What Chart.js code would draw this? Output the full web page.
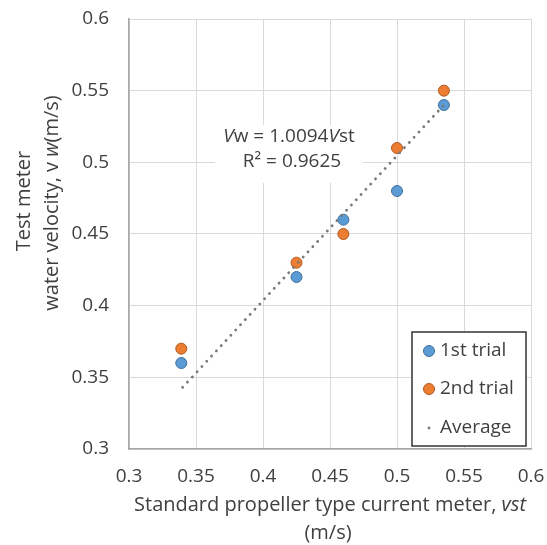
<!DOCTYPE html>
<html>
<head>
<meta charset="utf-8">
<script src="https://cdn.jsdelivr.net/npm/chart.js@4.4.1/dist/chart.umd.min.js"></script>
<style>
  html, body { margin: 0; padding: 0; background: #fff; }
</style>
</head>
<body>
<canvas id="chartVel" width="547" height="545"></canvas>
<script>
// values
const velStd = [0.339, 0.425, 0.46, 0.5, 0.535];
const trial1 = [0.36, 0.42, 0.46, 0.48, 0.54];
const trial2 = [0.37, 0.43, 0.45, 0.51, 0.55];
const avgX = [0.34, 0.535];
const avgY = [0.343, 0.54];
const tickVals = [0.3, 0.35, 0.4, 0.45, 0.5, 0.55, 0.6];
const tickLabels = ['0.3', '0.35', '0.4', '0.45', '0.5', '0.55', '0.6'];
const seriesNames = ['1st trial', '2nd trial', 'Average'];

const FONT = '"Open Sans", sans-serif';
const TXT = '#404040';

// draws a line of text made of normal / italic pieces, centred on (cx, cy)
function drawRuns(ctx, runs, cx, cy, size) {
    let total = 0;
    runs.forEach(r => {
        ctx.font = (r[1] ? 'italic ' : '') + size + 'px ' + FONT;
        total += ctx.measureText(r[0]).width;
    });
    let x = cx - total / 2;
    ctx.textAlign = 'left';
    ctx.textBaseline = 'middle';
    runs.forEach(r => {
        ctx.font = (r[1] ? 'italic ' : '') + size + 'px ' + FONT;
        ctx.fillText(r[0], x, cy);
        x += ctx.measureText(r[0]).width;
    });
}

const extras = {
    id: 'extras',
    beforeDatasetsDraw(chart) {
        const ctx = chart.ctx;
        ctx.save();
        // trendline label
        ctx.fillStyle = '#fff';
        ctx.fillRect(215, 125, 148, 58);
        ctx.fillStyle = TXT;
        drawRuns(ctx, [['V', true], ['w = 1.0094', false], ['V', true], ['st', false]], 289, 137, 19);
        drawRuns(ctx, [['R\u00B2 = 0.9625', false]], 292, 162, 19);
        ctx.restore();
    },
    afterDraw(chart) {
        const ctx = chart.ctx;
        const ds = chart.data.datasets;
        ctx.save();
        // axis titles
        ctx.fillStyle = TXT;
        drawRuns(ctx, [['Standard propeller type current meter, ', false], ['vst', true]], 330, 505, 20);
        drawRuns(ctx, [['(m/s)', false]], 328, 533, 20);
        ctx.save();
        ctx.translate(24, 201);
        ctx.rotate(-Math.PI / 2);
        drawRuns(ctx, [['Test meter', false]], 0, 0, 20);
        ctx.restore();
        ctx.save();
        ctx.translate(52, 203);
        ctx.rotate(-Math.PI / 2);
        drawRuns(ctx, [['water velocity, v ', false], ['w', true], ['(m/s)', false]], 0, 0, 20);
        ctx.restore();

        // legend box
        ctx.fillStyle = '#fff';
        ctx.fillRect(412, 332, 114, 114);
        ctx.strokeStyle = '#333';
        ctx.lineWidth = 1.5;
        ctx.strokeRect(412, 332, 114, 114);
        const rows = [351, 389, 428];
        ds.forEach((d, i) => {
            const y = rows[i];
            ctx.beginPath();
            if (i < 2) {
                ctx.arc(429, y, 5.5, 0, Math.PI * 2);
                ctx.fillStyle = d.backgroundColor;
                ctx.fill();
                ctx.lineWidth = 1;
                ctx.strokeStyle = d.borderColor;
                ctx.stroke();
            } else {
                ctx.arc(429, y, 1.4, 0, Math.PI * 2);
                ctx.fillStyle = d.borderColor;
                ctx.fill();
            }
            ctx.fillStyle = TXT;
            ctx.font = '19px ' + FONT;
            ctx.textAlign = 'left';
            ctx.textBaseline = 'middle';
            ctx.fillText(d.label, 440, y);
        });
        ctx.restore();
    }
};

const ctx = document.getElementById('chartVel');

new Chart(ctx, {
    type: 'scatter',
    data: {
        datasets: [{
            label: seriesNames[0],
            data: velStd.map((x, i) => ({ x: x, y: trial1[i] })),
            backgroundColor: '#5B9BD5',
            borderColor: '#41719C',
            borderWidth: 1,
            pointRadius: 5.5,
            order: 3
        }, {
            label: seriesNames[1],
            data: velStd.map((x, i) => ({ x: x, y: trial2[i] })),
            backgroundColor: '#ED7D31',
            borderColor: '#AE5A21',
            borderWidth: 1,
            pointRadius: 5.5,
            order: 2
        }, {
            label: seriesNames[2],
            type: 'line',
            data: avgX.map((x, i) => ({ x: x, y: avgY[i] })),
            borderColor: '#7a7a7a',
            backgroundColor: '#7a7a7a',
            borderWidth: 2.8,
            borderDash: [0.1, 7],
            borderCapStyle: 'round',
            pointRadius: 0,
            fill: false,
            order: 1
        }]
    },
    options: {
        responsive: false,
        animation: false,
        layout: { padding: { top: 19, right: 16, left: 0, bottom: 0 } },
        plugins: {
            legend: { display: false },
            tooltip: { enabled: false }
        },
        scales: {
            x: {
                type: 'linear',
                min: 0.3,
                max: 0.6,
                afterBuildTicks: s => { s.ticks = tickVals.map(v => ({ value: v })); },
                afterFit: s => {
                    s.height = 96;
                    s.paddingLeft = 0;
                    s.paddingRight = 0;
                },
                ticks: {
                    callback: (v, i) => tickLabels[i],
                    color: TXT,
                    font: { family: FONT, size: 19 },
                    padding: 16,
                    maxRotation: 0
                },
                grid: { color: '#d9d9d9', drawTicks: false },
                border: { color: '#a6a6a6', width: 1.5 }
            },
            y: {
                min: 0.3,
                max: 0.6,
                afterBuildTicks: s => { s.ticks = tickVals.map(v => ({ value: v })); },
                afterFit: s => {
                    s.width = 129;
                    s.paddingTop = 0;
                    s.paddingBottom = 0;
                },
                ticks: {
                    callback: (v, i) => tickLabels[i],
                    color: TXT,
                    font: { family: FONT, size: 19 },
                    padding: 20
                },
                grid: { color: '#d9d9d9', drawTicks: false },
                border: { color: '#a6a6a6', width: 1.5 }
            }
        }
    },
    plugins: [extras]
});
</script>
</body>
</html>
